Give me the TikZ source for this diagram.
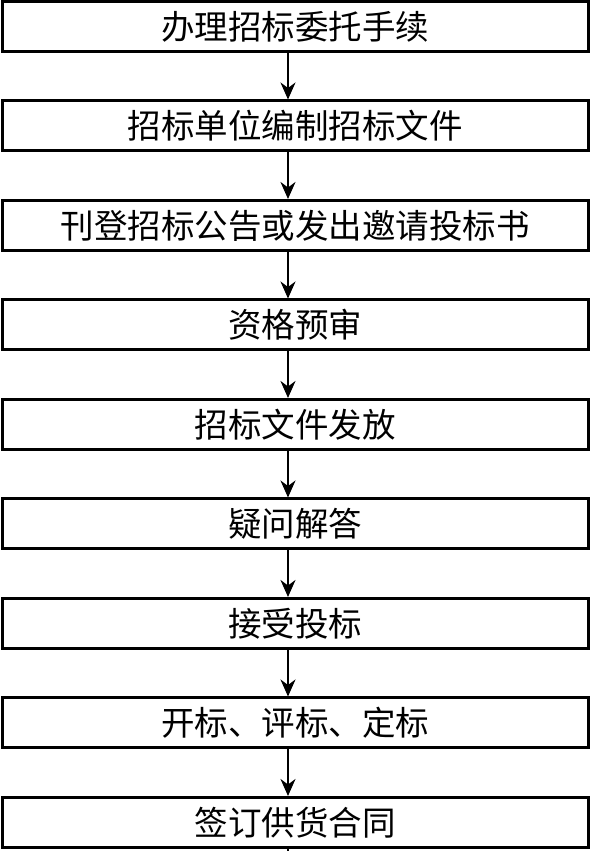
\documentclass[tikz,border=0pt]{standalone}
\usepackage{fontspec}
\newfontfamily\cjk{Noto Sans CJK SC}
\usetikzlibrary{arrows.meta}
\begin{document}
\begin{tikzpicture}[x=1pt,y=1pt,
  stepbox/.style={draw=black, line width=3pt, minimum width=586pt, minimum height=50pt,
    inner sep=0pt, font=\cjk\fontsize{33.5}{36}\selectfont, anchor=center},
  flowarrow/.style={line width=2pt, -{Stealth[length=17pt,width=15pt]}}]
\useasboundingbox (0,0) rectangle (592,851);
\fill[white] (0,0) rectangle (592,851);
\foreach \i/\t in {0/办理招标委托手续,1/招标单位编制招标文件,2/刊登招标公告或发出邀请投标书,3/资格预审,4/招标文件发放,5/疑问解答,6/接受投标,7/开标、评标、定标,8/签订供货合同}{
  \node[stepbox] (b\i) at (295, {851-26.5-99.5*\i}) {\t};
}
\foreach \i [evaluate=\i as \j using int(\i+1)] in {0,...,7}{
  \draw[flowarrow] ([xshift=-7pt]b\i.south) -- ([xshift=-7pt]b\j.north);
}
\coordinate (end) at (288,0);
\draw[line width=2pt] ([xshift=-7pt]b8.south) -- (end);
\end{tikzpicture}
\end{document}
